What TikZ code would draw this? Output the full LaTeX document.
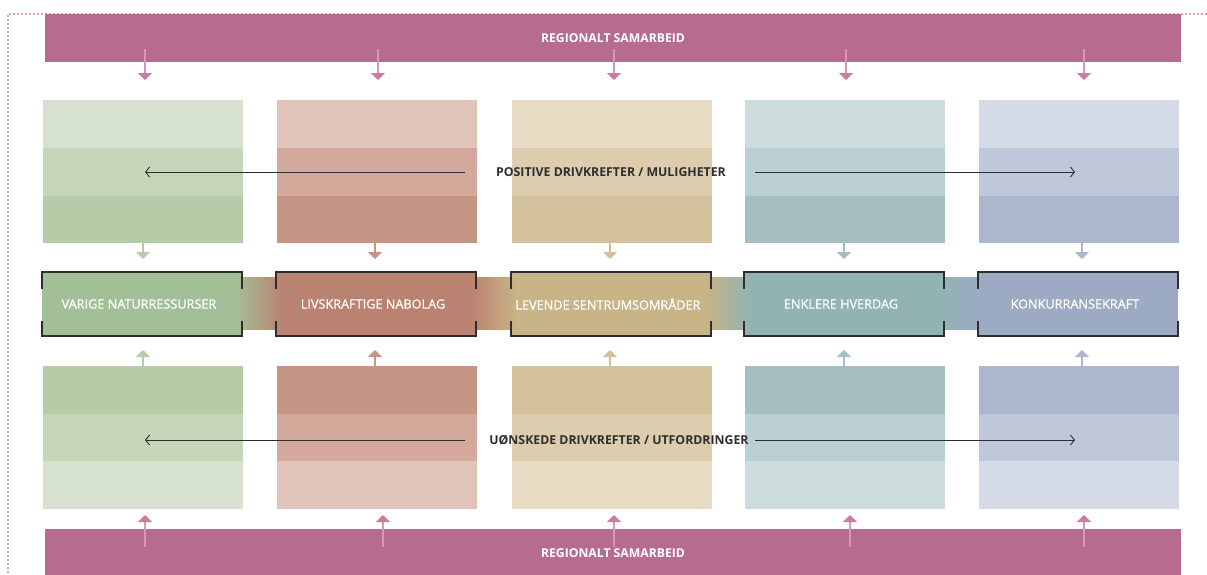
\documentclass[tikz,border=0pt]{standalone}
\usepackage{fontspec}
\setmainfont{Open Sans}
\newfontfamily\semib{Open Sans}[FakeBold=0.6]
\usetikzlibrary{arrows.meta}
\definecolor{band}{HTML}{B86B91}
\definecolor{bandarrowline}{HTML}{D49AB5}
\definecolor{bandarrowhead}{HTML}{C77EA2}
\definecolor{dotc}{HTML}{D9A0BC}
\definecolor{darkline}{HTML}{2E2E2E}
% column colours: light, mid, dark, main
\definecolor{gA}{HTML}{D7E1D0}\definecolor{gB}{HTML}{C6D6B9}\definecolor{gC}{HTML}{B6CCA9}\definecolor{gM}{HTML}{A3BF97}
\definecolor{rA}{HTML}{E1C4B9}\definecolor{rB}{HTML}{D4A99B}\definecolor{rC}{HTML}{C79585}\definecolor{rM}{HTML}{BA8271}
\definecolor{yA}{HTML}{E8DCC5}\definecolor{yB}{HTML}{DDCDAE}\definecolor{yC}{HTML}{D3C19B}\definecolor{yM}{HTML}{C8B486}
\definecolor{tA}{HTML}{CCDCDC}\definecolor{tB}{HTML}{B9CFD2}\definecolor{tC}{HTML}{A5BEC2}\definecolor{tM}{HTML}{92B3B3}
\definecolor{bA}{HTML}{D4DAE6}\definecolor{bB}{HTML}{BFC8DA}\definecolor{bC}{HTML}{ACB7CD}\definecolor{bM}{HTML}{9CAAC4}
\tikzset{
  stripe/.style={anchor=north west, minimum width=200pt, minimum height=48pt, inner sep=0pt, outer sep=0pt},
  mainbox/.style={minimum width=200pt, minimum height=64pt, inner sep=0pt, outer sep=0pt},
  mainlabel/.style={text=white, font=\semib\fontsize{12.7}{14}\selectfont, inner sep=0pt},
  bandbox/.style={anchor=north west, minimum width=1136pt, minimum height=48pt, inner sep=0pt, outer sep=0pt, fill=band, text=white, font=\fontsize{12.2}{14}\selectfont\bfseries},
  bandarrow/.style={draw=bandarrowline, line width=1.6pt, -{Triangle[width=14pt,length=7pt,color=bandarrowhead]}},
  colarrow/.style={line width=1.4pt, -{Triangle[width=14pt,length=7pt]}},
  harrow/.style={draw=darkline, line width=0.9pt, -{Straight Barb[length=4pt,width=10pt]}},
  darklabel/.style={text=darkline, font=\fontsize{12.3}{14}\selectfont\bfseries, inner sep=0pt},
  boxedge/.style={draw=darkline, line width=1.1pt, line cap=rect},
}
\begin{document}
\begin{tikzpicture}[x=1pt,y=-1pt]
\useasboundingbox (0,0) rectangle (1207,574);
% dotted frame
\draw[dotc, line width=1.2pt, dash pattern=on 2pt off 2pt] (1207,14) -- (8,14) -- (8,574);
% regional bands
\node[bandbox] (topband) at (45,14) {REGIONALT SAMARBEID};
\node[bandbox] (botband) at (45,529) {REGIONALT SAMARBEID};
% columns
\foreach \i/\xl/\cn/\ax/\bx/\mx/\nx in {
  1/43/g/145/145/143/143,
  2/277/r/378/383/375/375,
  3/512/y/614/614/610/610,
  4/745/t/846/850/844/844,
  5/979/b/1084/1084/1082/1082}{
  % upper stack
  \node[stripe, fill=\cn A] (ua\i) at (\xl,100) {};
  \node[stripe, fill=\cn B] (ub\i) at (\xl,148) {};
  \node[stripe, fill=\cn C, minimum height=47pt] (uc\i) at (\xl,196) {};
  % lower stack
  \node[stripe, fill=\cn C] (la\i) at (\xl,366) {};
  \node[stripe, fill=\cn B, minimum height=47pt] (lb\i) at (\xl,414) {};
  \node[stripe, fill=\cn A] (lc\i) at (\xl,461) {};
  % main box
  \node[mainbox, fill=\cn M] (m\i) at (\xl+99,304) {};
  % arrows from regional bands
  \coordinate (ts\i) at (\ax,49);
  \coordinate (te\i) at (\ax,80);
  \draw[bandarrow] (ts\i) -- (te\i);
  \coordinate (bs\i) at (\bx,547);
  \coordinate (be\i) at (\bx,515);
  \draw[bandarrow] (bs\i) -- (be\i);
  % arrows into main box
  \coordinate (us\i) at (\mx,243);
  \coordinate (ue\i) at (\mx,259);
  \draw[colarrow, draw=\cn C, color=\cn C] (us\i) -- (ue\i);
  \coordinate (ls\i) at (\nx,366);
  \coordinate (le\i) at (\nx,350);
  \draw[colarrow, draw=\cn C, color=\cn C] (ls\i) -- (le\i);
}
% gradient band between main boxes
\foreach \a/\b/\ca/\cb in {1/2/gM/rM, 2/3/rM/yM, 3/4/yM/tM, 4/5/tM/bM}{
  \shade[left color=\ca, right color=\cb] ([xshift=-6pt,yshift=-5pt]m\a.north east) rectangle ([xshift=6pt,yshift=7pt]m\b.south west);
}
% box edges
\foreach \i in {1,...,5}{
  \draw[boxedge] ([yshift=-16pt]m\i.north west) -- (m\i.north west) -- (m\i.north east) -- ([yshift=-16pt]m\i.north east);
  \draw[boxedge] ([yshift=14pt]m\i.south west) -- (m\i.south west) -- (m\i.south east) -- ([yshift=14pt]m\i.south east);
}
% labels of the main boxes
\foreach \i/\lab in {1/VARIGE NATURRESSURSER, 2/LIVSKRAFTIGE NABOLAG, 3/LEVENDE SENTRUMSOMRÅDER, 4/ENKLERE HVERDAG, 5/KONKURRANSEKRAFT}{
  \node[mainlabel] (t\i) at ([xshift=-3pt]m\i.center) {\lab};
}
% drivers
\node[darklabel] (pos) at (611,172) {POSITIVE DRIVKREFTER / MULIGHETER};
\coordinate (posA) at (465,172);
\coordinate (posL) at (145,172);
\coordinate (posB) at (755,172);
\coordinate (posR) at (1075,172);
\draw[harrow] (posA) -- (posL);
\draw[harrow] (posB) -- (posR);
\node[darklabel] (neg) at (619,440) {UØNSKEDE DRIVKREFTER / UTFORDRINGER};
\coordinate (negA) at (465,440);
\coordinate (negL) at (145,440);
\coordinate (negB) at (755,440);
\coordinate (negR) at (1075,440);
\draw[harrow] (negA) -- (negL);
\draw[harrow] (negB) -- (negR);
\end{tikzpicture}
\end{document}
